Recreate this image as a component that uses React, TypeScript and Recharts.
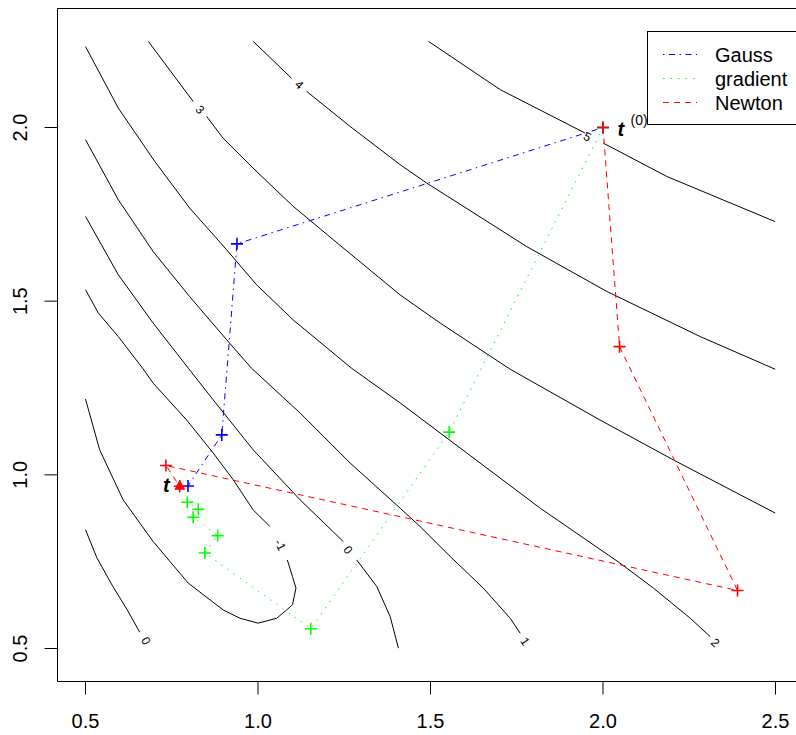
import React from "react";
import {
  ScatterChart,
  Scatter,
  XAxis,
  YAxis,
  ReferenceArea,
  ReferenceDot,
  Legend,
} from "recharts";

// axis limits and ticks
const xDomain = [0.4188, 2.5797];
const yDomain = [0.405, 2.3426];
const xTicks = [0.5, 1.0, 1.5, 2.0, 2.5];
const yTicks = [0.5, 1.0, 1.5, 2.0];

// contour lines (split where the level label sits)
const contourZeroLow = [
  { x: 0.5, y: 0.842 }, { x: 0.533, y: 0.761 }, { x: 0.579, y: 0.679 },
  { x: 0.62, y: 0.613 }, { x: 0.657, y: 0.547 },
];
const contourMinusOneA = [
  { x: 0.5, y: 1.533 }, { x: 0.537, y: 1.466 }, { x: 0.595, y: 1.398 },
  { x: 0.667, y: 1.305 }, { x: 0.696, y: 1.264 }, { x: 0.793, y: 1.158 },
  { x: 0.87, y: 1.063 }, { x: 0.928, y: 0.986 }, { x: 0.986, y: 0.899 },
  { x: 1.035, y: 0.851 },
];
const contourMinusOneB = [
  { x: 1.085, y: 0.755 }, { x: 1.1, y: 0.707 }, { x: 1.11, y: 0.674 },
  { x: 1.1, y: 0.626 }, { x: 1.083, y: 0.611 }, { x: 1.054, y: 0.587 },
  { x: 1.0, y: 0.573 }, { x: 0.948, y: 0.587 }, { x: 0.899, y: 0.611 },
  { x: 0.798, y: 0.688 }, { x: 0.696, y: 0.808 }, { x: 0.609, y: 0.928 },
  { x: 0.541, y: 1.072 }, { x: 0.5, y: 1.218 },
];
const contourZeroA = [
  { x: 0.5, y: 1.744 }, { x: 0.595, y: 1.576 }, { x: 0.696, y: 1.437 },
  { x: 0.798, y: 1.307 }, { x: 0.87, y: 1.216 }, { x: 0.986, y: 1.072 },
  { x: 1.122, y: 0.928 }, { x: 1.247, y: 0.808 },
];
const contourZeroB = [
  { x: 1.286, y: 0.755 }, { x: 1.344, y: 0.679 }, { x: 1.383, y: 0.592 },
  { x: 1.407, y: 0.501 },
];
const contourOne = [
  { x: 0.5, y: 1.965 }, { x: 0.595, y: 1.792 }, { x: 0.696, y: 1.643 },
  { x: 0.802, y: 1.513 }, { x: 0.909, y: 1.389 }, { x: 0.981, y: 1.307 },
  { x: 1.122, y: 1.178 }, { x: 1.267, y: 1.034 }, { x: 1.412, y: 0.904 },
  { x: 1.47, y: 0.851 }, { x: 1.557, y: 0.765 }, { x: 1.653, y: 0.674 },
  { x: 1.731, y: 0.587 }, { x: 1.76, y: 0.544 },
];
const contourTwo = [
  { x: 0.5, y: 2.233 }, { x: 0.595, y: 2.056 }, { x: 0.701, y: 1.902 },
  { x: 0.802, y: 1.768 }, { x: 0.909, y: 1.648 }, { x: 0.996, y: 1.547 },
  { x: 1.102, y: 1.446 }, { x: 1.271, y: 1.307 }, { x: 1.412, y: 1.207 },
  { x: 1.605, y: 1.063 }, { x: 1.818, y: 0.904 }, { x: 2.049, y: 0.746 },
  { x: 2.146, y: 0.674 }, { x: 2.253, y: 0.587 }, { x: 2.311, y: 0.534 },
];
const contourThreeA = [{ x: 0.682, y: 2.248 }, { x: 0.812, y: 2.075 }];
const contourThreeB = [
  { x: 0.851, y: 2.032 }, { x: 0.899, y: 1.969 }, { x: 0.991, y: 1.878 },
  { x: 1.102, y: 1.773 }, { x: 1.218, y: 1.677 }, { x: 1.412, y: 1.518 },
  { x: 1.528, y: 1.437 }, { x: 1.731, y: 1.304 }, { x: 1.991, y: 1.158 },
  { x: 2.204, y: 1.043 }, { x: 2.499, y: 0.89 },
];
const contourFourA = [{ x: 0.986, y: 2.248 }, { x: 1.097, y: 2.142 }];
const contourFourB = [
  { x: 1.141, y: 2.104 }, { x: 1.267, y: 2.003 }, { x: 1.412, y: 1.893 },
  { x: 1.489, y: 1.84 }, { x: 1.779, y: 1.657 }, { x: 2.011, y: 1.528 },
  { x: 2.282, y: 1.398 }, { x: 2.499, y: 1.304 },
];
const contourFiveA = [
  { x: 1.494, y: 2.248 }, { x: 1.702, y: 2.109 }, { x: 1.948, y: 1.984 },
];
const contourFiveB = [
  { x: 2.001, y: 1.955 }, { x: 2.185, y: 1.859 }, { x: 2.499, y: 1.729 },
];

const contourLabels = [
  { text: "0", x: 0.675, y: 0.522 },
  { text: "-1", x: 1.064, y: 0.798 },
  { text: "0", x: 1.261, y: 0.784 },
  { text: "1", x: 1.774, y: 0.52 },
  { text: "2", x: 2.325, y: 0.517 },
  { text: "3", x: 0.832, y: 2.051 },
  { text: "4", x: 1.119, y: 2.123 },
  { text: "5", x: 1.955, y: 1.973 },
];
const labelAngles = [60, 63, 52, 56, 44, 47, 43, 29];

// optimisation paths
const gaussPath = [
  { x: 2.0, y: 2.0 }, { x: 0.939, y: 1.665 }, { x: 0.895, y: 1.115 },
  { x: 0.797, y: 0.968 },
];
const gradientPath = [
  { x: 2.0, y: 2.0 }, { x: 1.554, y: 1.123 }, { x: 1.153, y: 0.557 },
  { x: 0.846, y: 0.775 }, { x: 0.883, y: 0.825 }, { x: 0.812, y: 0.878 },
  { x: 0.827, y: 0.901 }, { x: 0.795, y: 0.921 },
];
const newtonPath = [
  { x: 2.0, y: 2.0 }, { x: 2.048, y: 1.369 }, { x: 2.39, y: 0.667 },
  { x: 0.733, y: 1.027 }, { x: 0.773, y: 0.967 },
];
const startPoint = { x: 2.0, y: 2.0 };
const optimum = [{ x: 0.773, y: 0.967 }];

const legendItems = [
  { name: "Gauss", color: "#0000FF", dash: "1.5 4.5 6 4.5" },
  { name: "gradient", color: "#00FF00", dash: "1.5 6" },
  { name: "Newton", color: "#FF0000", dash: "6 5" },
];

const FONT = "'Liberation Sans', Arial, Helvetica, sans-serif";

const contours = [
  contourZeroLow, contourMinusOneA, contourMinusOneB, contourZeroA, contourZeroB,
  contourOne, contourTwo, contourThreeA, contourThreeB, contourFourA,
  contourFourB, contourFiveA, contourFiveB,
];

const noMarker = () => <g />;

const plus = (color: string) => (props: any) => {
  const { cx, cy } = props;
  return (
    <path
      d={`M${cx - 6},${cy}H${cx + 6}M${cx},${cy - 6}V${cy + 6}`}
      stroke={color}
      strokeWidth={1.6}
      fill="none"
    />
  );
};

const triangle = (props: any) => {
  const { cx, cy } = props;
  return (
    <path
      d={`M${cx},${cy - 6.5}L${cx + 5.5},${cy + 3.5}L${cx - 5.5},${cy + 3.5}Z`}
      fill="#FF0000"
    />
  );
};

const XTick = (props: any) => {
  const { x, y, payload } = props;
  return (
    <g>
      <line x1={x} x2={x} y1={y} y2={y + 13} stroke="#000" />
      <text x={x} y={y + 46.5} textAnchor="middle" fontSize={20} fontFamily={FONT} fill="#000">
        {payload.value.toFixed(1)}
      </text>
    </g>
  );
};

const YTick = (props: any) => {
  const { x, y, payload } = props;
  return (
    <g>
      <line x1={x - 13} x2={x} y1={y} y2={y} stroke="#000" />
      <text
        transform={`translate(${x - 30.8},${y}) rotate(-90)`}
        textAnchor="middle"
        fontSize={20}
        fontFamily={FONT}
        fill="#000"
      >
        {payload.value.toFixed(1)}
      </text>
    </g>
  );
};

const renderLegend = () => (
  <svg width={160} height={96} style={{ display: "block", overflow: "visible" }}>
    <rect x={0.5} y={0.5} width={200} height={93} fill="#fff" stroke="#000" />
    {legendItems.map((item, i) => {
      const cy = 23.5 + i * 24;
      return (
        <g key={item.name}>
          <line x1={16} x2={50} y1={cy} y2={cy} stroke={item.color} strokeDasharray={item.dash} />
          <text x={68} y={cy + 7} fontSize={20} fontFamily={FONT} fill="#000">
            {item.name}
          </text>
        </g>
      );
    })}
  </svg>
);

export default function App() {
  return (
    <div
      style={{
        position: "absolute",
        left: 0,
        top: 0,
        width: 796,
        height: 735,
        overflow: "hidden",
        background: "#fff",
      }}
    >
      <ScatterChart
        width={803}
        height={735}
        margin={{ top: 8.5, right: 0, bottom: 0, left: 0 }}
      >
        <XAxis
          type="number"
          dataKey="x"
          domain={xDomain}
          ticks={xTicks}
          allowDataOverflow
          axisLine={false}
          tickLine={false}
          tickSize={0}
          tickMargin={0}
          height={53.5}
          tick={<XTick />}
          interval={0}
        />
        <YAxis
          type="number"
          dataKey="y"
          domain={yDomain}
          ticks={yTicks}
          allowDataOverflow
          axisLine={false}
          tickLine={false}
          tickSize={0}
          tickMargin={0}
          width={57.5}
          tick={<YTick />}
          interval={0}
        />

        {/* plot box */}
        <ReferenceArea
          x1={xDomain[0]}
          x2={xDomain[1]}
          y1={yDomain[0]}
          y2={yDomain[1]}
          fill="none"
          fillOpacity={0}
          stroke="#000"
          strokeOpacity={1}
        />

        {/* contours */}
        {contours.map((c, i) => (
          <Scatter
            key={`c${i}`}
            data={c}
            fill="none"
            line={{ stroke: "#000", strokeWidth: 1 }}
            shape={noMarker}
            legendType="none"
            isAnimationActive={false}
          />
        ))}

        {contourLabels.map((l, i) => (
          <ReferenceDot
            key={`l${i}`}
            x={l.x}
            y={l.y}
            r={0}
            shape={(p: any) => (
              <text
                transform={`translate(${p.cx},${p.cy}) rotate(${labelAngles[i]})`}
                textAnchor="middle"
                dy={4}
                fontSize={12}
                fontFamily={FONT}
                fill="#000"
              >
                {l.text}
              </text>
            )}
          />
        ))}

        {/* paths */}
        <Scatter
          name="Gauss"
          data={gaussPath}
          fill="none"
          line={{ stroke: "#0000FF", strokeWidth: 1, strokeDasharray: "1.5 4.5 6 4.5" }}
          shape={plus("#0000FF")}
          isAnimationActive={false}
        />
        <Scatter
          name="gradient"
          data={gradientPath}
          fill="none"
          line={{ stroke: "#00FF00", strokeWidth: 1, strokeDasharray: "1.5 6" }}
          shape={plus("#00FF00")}
          isAnimationActive={false}
        />
        <Scatter
          name="Newton"
          data={newtonPath}
          fill="none"
          line={{ stroke: "#FF0000", strokeWidth: 1, strokeDasharray: "6 5" }}
          shape={plus("#FF0000")}
          isAnimationActive={false}
        />
        <Scatter
          data={optimum}
          shape={triangle}
          legendType="none"
          isAnimationActive={false}
        />

        {/* point labels */}
        <ReferenceDot
          x={startPoint.x}
          y={startPoint.y}
          r={0}
          shape={(p: any) => (
            <g fontFamily={FONT} fill="#000">
              <text x={p.cx + 14.5} y={p.cy + 8.5} fontSize={20} fontWeight="bold" fontStyle="italic">
                t
              </text>
              <text x={p.cx + 27.5} y={p.cy - 2.5} fontSize={14}>
                (0)
              </text>
            </g>
          )}
        />
        <ReferenceDot
          x={optimum[0].x}
          y={optimum[0].y}
          r={0}
          shape={(p: any) => (
            <text
              x={p.cx - 10}
              y={p.cy + 5.5}
              textAnchor="end"
              fontSize={20}
              fontWeight="bold"
              fontStyle="italic"
              fontFamily={FONT}
              fill="#000"
            >
              t
            </text>
          )}
        />

        <Legend
          layout="vertical"
          align="center"
          verticalAlign="middle"
          content={renderLegend}
          wrapperStyle={{ left: 647, top: 31, width: 160, height: 96 }}
        />
      </ScatterChart>
    </div>
  );
}
